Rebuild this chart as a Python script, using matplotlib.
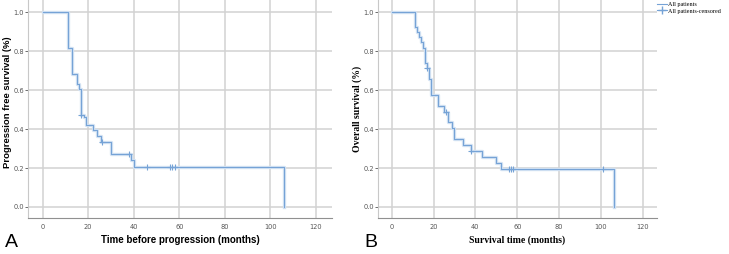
import numpy as np
import matplotlib
matplotlib.use("Agg")
import matplotlib.pyplot as plt
from matplotlib.lines import Line2D

# -----------------------------
# Data
# -----------------------------
# A: progression free survival
pfs_time = [0, 11, 13, 15, 16, 17, 18, 19, 22, 24, 25.5, 30, 39, 40, 106]
pfs_surv = [1.0, 0.816, 0.684, 0.632, 0.605, 0.474, 0.460, 0.420, 0.393, 0.366, 0.335,
            0.274, 0.243, 0.205, 0.0]
pfs_cens = [17, 26, 38, 46, 56, 57, 58]

# B: overall survival
os_time = [0, 11, 12, 13, 14, 15, 16, 17, 18, 19, 22, 25, 27, 29, 30, 34, 38, 43, 50, 52, 106]
os_surv = [1.0, 0.923, 0.897, 0.872, 0.846, 0.818, 0.741, 0.714, 0.657, 0.575, 0.52, 0.49,
           0.435, 0.406, 0.348, 0.32, 0.289, 0.257, 0.228, 0.194, 0.0]
os_cens = [17, 26, 38, 56, 57, 58, 101]

x_ticks = [0, 20, 40, 60, 80, 100, 120]
y_ticks = [0.0, 0.2, 0.4, 0.6, 0.8, 1.0]

line_col = '#76a3d6'
halo_col = '#d3e2f3'
grid_col = '#d2d2d2'


def surv_at(times, surv, t):
    idx = np.searchsorted(times, t, side='right') - 1
    return np.array(surv)[idx]


def km_panel(ax, times, surv, cens):
    ax.step(times, surv, where='post', color=halo_col, lw=2.4, zorder=2)
    ax.step(times, surv, where='post', color=line_col, lw=0.8, zorder=3)
    ax.plot(cens, surv_at(times, surv, cens), ls='none', marker='+', ms=4.5, mew=0.8,
            color=line_col, zorder=4)
    ax.set_xlim(-6.4, 127)
    ax.set_ylim(-0.057, 1.064)
    ax.set_xticks(x_ticks)
    ax.set_yticks(y_ticks)
    ax.set_yticklabels([f"{v:.1f}" for v in y_ticks])
    ax.grid(True, color=grid_col, lw=1.1)
    ax.set_axisbelow(True)
    for s in ['top', 'right']:
        ax.spines[s].set_visible(False)
    ax.spines['bottom'].set_color('#909090')
    ax.spines['left'].set_color('#c8c8c8')
    ax.tick_params(labelsize=4.8, colors='#555555', length=2, width=0.6)
    ax.tick_params(axis='y', pad=1)
    ax.tick_params(axis='x', length=0, pad=4)


fig = plt.figure(figsize=(7.29, 2.54), dpi=100)

# -----------------------------
# Panel A
# -----------------------------
axA = fig.add_axes([28/729, 1 - 218/254, 304/729, 218/254])
km_panel(axA, pfs_time, pfs_surv, pfs_cens)
axA.set_xlabel('Time before progression (months)', fontsize=7, fontweight='bold',
               family='Liberation Sans', labelpad=4)
axA.set_ylabel('Progression free survival (%)', fontsize=6.8, fontweight='bold',
               family='Liberation Sans')
axA.yaxis.set_label_coords(-16/304, 0.53)
fig.text(5/729, 1 - 247/254, 'A', fontsize=14, family='Liberation Sans')

# -----------------------------
# Panel B
# -----------------------------
axB = fig.add_axes([378/729, 1 - 218/254, 279/729, 218/254])
km_panel(axB, os_time, os_surv, os_cens)
axB.set_xlim(-6.5, 126.7)
axB.set_xlabel('Survival time (months)', fontsize=7, fontweight='bold',
               family='Liberation Serif', labelpad=4)
axB.set_ylabel('Overall survival (%)', fontsize=7, fontweight='bold',
               family='Liberation Serif')
axB.yaxis.set_label_coords(-16/279, 0.5)
fig.text(364/729, 1 - 247/254, 'B', fontsize=14, family='Liberation Sans')

handles = [Line2D([], [], color=line_col, lw=0.8),
           Line2D([], [], color=line_col, lw=0.8, marker='+', ms=6)]
leg = fig.legend(handles, ['All patients', 'All patients-censored'],
                 loc='upper left', bbox_to_anchor=(655/729, 1.0), frameon=False,
                 prop={'family': 'Liberation Serif', 'size': 4.4}, handlelength=1.6,
                 handletextpad=0.3, labelspacing=0.2, borderaxespad=0.1, borderpad=0.2)

plt.savefig("out.png", dpi=100)
